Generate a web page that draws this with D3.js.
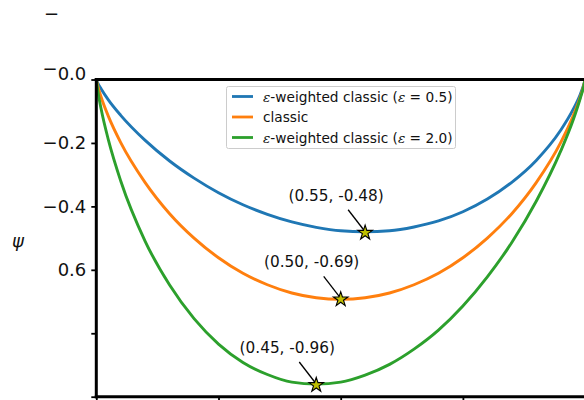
<!DOCTYPE html>
<html><head><meta charset="utf-8">
<script src="https://cdn.jsdelivr.net/npm/d3@7"></script>
<style>
html,body{margin:0;padding:0;background:#fff;}
svg{display:block;font-family:"DejaVu Sans",sans-serif;}
</style></head>
<body><svg id="c" width="584" height="400"></svg>
<script>
// ---- data ----
const xVals = [0,0.003,0.01,0.025,0.05,0.1,0.15,0.2,0.25,0.3,0.35,0.4,0.45,0.5,0.55,0.6,0.65,0.7,0.75,0.8,0.85,0.9,0.95,0.975,0.99,0.997,1];
const weightedHalf = [0,-0.011,-0.030,-0.065,-0.113,-0.192,-0.257,-0.311,-0.357,-0.395,-0.425,-0.449,-0.466,-0.477,-0.480,-0.477,-0.465,-0.446,-0.417,-0.377,-0.324,-0.255,-0.160,-0.096,-0.047,-0.017,0];
const classic = [0,-0.020,-0.056,-0.117,-0.199,-0.325,-0.423,-0.500,-0.562,-0.611,-0.647,-0.673,-0.688,-0.693,-0.688,-0.673,-0.647,-0.611,-0.562,-0.500,-0.423,-0.325,-0.199,-0.117,-0.056,-0.020,0];
const weightedTwo = [0,-0.035,-0.094,-0.192,-0.320,-0.510,-0.648,-0.754,-0.834,-0.892,-0.930,-0.954,-0.960,-0.954,-0.932,-0.898,-0.850,-0.790,-0.714,-0.622,-0.514,-0.384,-0.226,-0.130,-0.060,-0.022,0];
const seriesNames = ["\u03b5-weighted classic (\u03b5 = 0.5)", "classic", "\u03b5-weighted classic (\u03b5 = 2.0)"];
const minX = [0.55, 0.50, 0.45];
const minY = [-0.48, -0.69, -0.96];
const yTickValues = [0, -0.2, -0.4, -0.6, -0.8, -1.0];
const yTickLabels = ["\u22120.0", "\u22120.2", "\u22120.4", "0.6", "", ""];
const xTickValues = [0, 0.25, 0.5, 0.75, 1.0];
const yLabel = "\u03c8";

// ---- drawing ----
const colors = ["#1f77b4", "#ff7f0e", "#2ca02c"];
const svg = d3.select("#c");
const x = d3.scaleLinear().domain([0, 1]).range([96.3, 585.1]);
const y = d3.scaleLinear().domain([-1, 0]).range([396.7, 79.5]);

const series = [weightedHalf, classic, weightedTwo];
const line = d3.line().x(d => x(d[0])).y(d => y(d[1])).curve(d3.curveMonotoneX);

const plot = svg.append("g");
series.forEach((s, i) => {
  plot.append("path")
    .datum(xVals.map((v, j) => [v, s[j]]))
    .attr("d", line)
    .attr("fill", "none")
    .attr("stroke", colors[i])
    .attr("stroke-width", 2.9)
    .attr("stroke-linecap", "butt");
});

// annotations
minX.forEach((mx, i) => {
  const px = x(mx), py = y(minY[i]);
  plot.append("line")
    .attr("x1", px - 17).attr("y1", py - 22)
    .attr("x2", px).attr("y2", py)
    .attr("stroke", "#000").attr("stroke-width", 1.3);
  plot.append("text")
    .attr("x", px - 29).attr("y", py - 36)
    .attr("text-anchor", "middle")
    .attr("dominant-baseline", "central")
    .attr("font-size", 15.3)
    .attr("fill", "#111")
    .text(`(${mx.toFixed(2)}, ${minY[i].toFixed(2)})`);
  plot.append("path")
    .attr("d", d3.symbol().type(d3.symbolStar).size(66)())
    .attr("transform", `translate(${px},${py + 1})`)
    .attr("fill", "#bfbf00")
    .attr("stroke", "#000")
    .attr("stroke-width", 1.1)
    .attr("stroke-linejoin", "miter");
});

// axes
const yAxis = d3.axisLeft(y).tickValues(yTickValues)
  .tickFormat((d, i) => yTickLabels[i]).tickSize(5).tickPadding(5);
const gy = svg.append("g").attr("transform", `translate(${x(0)},0)`).call(yAxis);
gy.select(".domain").remove();
gy.selectAll(".tick line").attr("stroke", "#000").attr("stroke-width", 1.8);
gy.selectAll(".tick text").attr("font-size", 18).attr("fill", "#111")
  .attr("font-family", "DejaVu Sans");
// raised minus on the first label, as in the reference
gy.selectAll(".tick text").filter((d, i) => i === 0).each(function () {
  const t = d3.select(this);
  const full = yTickLabels[0];
  t.text(null);
  t.append("tspan").attr("dy", "-0.3em").text(full[0]);
  t.append("tspan").attr("dy", "0.3em").text(full.slice(1));
});

const xAxis = d3.axisBottom(x).tickValues(xTickValues).tickFormat("").tickSize(5);
const gx = svg.append("g").attr("transform", `translate(0,${y(-1)})`).call(xAxis);
gx.select(".domain").remove();
gx.selectAll(".tick line").attr("stroke", "#000").attr("stroke-width", 1.8);

// stray minus near the top-left
svg.append("text").attr("x", 44).attr("y", 20)
  .attr("font-size", 18).attr("fill", "#111").text(yTickLabels[0][0]);

// spines
const sp = svg.append("g").attr("stroke", "#000").attr("stroke-width", 3).attr("stroke-linecap", "square");
sp.append("line").attr("x1", x(0)).attr("x2", x(1)).attr("y1", y(0)).attr("y2", y(0));
sp.append("line").attr("x1", x(0)).attr("x2", x(0)).attr("y1", y(0)).attr("y2", y(-1));
sp.append("line").attr("x1", x(0)).attr("x2", x(1)).attr("y1", y(-1)).attr("y2", y(-1));

// y label
svg.append("text").attr("x", 18).attr("y", 240)
  .attr("text-anchor", "middle").attr("dominant-baseline", "central")
  .attr("font-size", 18).attr("font-style", "italic").attr("fill", "#111")
  .text(yLabel);

// legend
const lg = svg.append("g");
lg.append("rect").attr("x", 226.5).attr("y", 86.5).attr("width", 229).attr("height", 62)
  .attr("rx", 2).attr("fill", "#fff").attr("fill-opacity", 0.8)
  .attr("stroke", "#cccccc").attr("stroke-width", 1);
seriesNames.forEach((name, i) => {
  const cy = 96.5 + i * 20.5;
  lg.append("line").attr("x1", 232).attr("x2", 253).attr("y1", cy).attr("y2", cy)
    .attr("stroke", colors[i]).attr("stroke-width", 2.8);
  const t = lg.append("text").attr("x", 263).attr("y", cy)
    .attr("dominant-baseline", "central").attr("font-size", 13.7).attr("fill", "#111");
  name.split(/(\u03b5)/).forEach(part => {
    if (!part) return;
    const ts = t.append("tspan").text(part);
    if (part === "\u03b5") ts.attr("font-style", "italic").attr("font-family", "DejaVu Serif");
  });
});
</script>
</body></html>
